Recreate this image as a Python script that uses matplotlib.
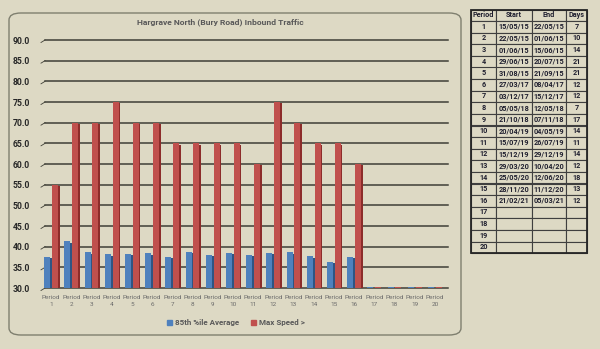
import numpy as np
import matplotlib.pyplot as plt
from matplotlib.patches import FancyBboxPatch, Rectangle

plt.rcParams['font.family'] = ['Roboto', 'DejaVu Sans']

# data
periods = [f"Period\n{i}" for i in range(1, 21)]
avg_85th = [37.5, 41.3, 38.6, 38.2, 38.3, 38.4, 37.5, 38.8, 38.1, 38.5,
            38.0, 38.5, 38.6, 37.7, 36.4, 37.5, 0, 0, 0, 0]
max_speed = [55, 70, 70, 75, 70, 70, 65, 65, 65, 65,
             60, 75, 70, 65, 65, 60, 0, 0, 0, 0]

tbl_period = [str(i) for i in range(1, 21)]
tbl_start = ["15/05/15", "22/05/15", "01/06/15", "29/06/15", "31/08/15", "27/03/17",
             "03/12/17", "05/05/18", "21/10/18", "20/04/19", "15/07/19", "15/12/19",
             "29/03/20", "25/05/20", "28/11/20", "21/02/21", "", "", "", ""]
tbl_end = ["22/05/15", "01/06/15", "15/06/15", "20/07/15", "21/09/15", "08/04/17",
           "15/12/17", "12/05/18", "07/11/18", "04/05/19", "26/07/19", "29/12/19",
           "10/04/20", "12/06/20", "11/12/20", "05/03/21", "", "", "", ""]
tbl_days = ["7", "10", "14", "21", "21", "12", "12", "7", "17", "14",
            "11", "14", "12", "18", "13", "12", "", "", "", ""]

bg = "#DDD9C4"
blue = "#4F81BD"
red = "#C0504D"
W, H = 600, 349

fig = plt.figure(figsize=(6, 3.49), dpi=100, facecolor=bg)

# chart frame
frame = FancyBboxPatch((9 / W, 14 / H), 452 / W, 322 / H, transform=fig.transFigure,
                       boxstyle="round,pad=0,rounding_size=0.02", facecolor=bg,
                       edgecolor="#7F7F6F", linewidth=1.0, zorder=0)
fig.patches.append(frame)

ax = fig.add_axes([41 / W, 61 / H, 404 / W, 248 / H])
ax.set_zorder(2)
ax.set_facecolor("none")
x = np.arange(len(periods))
bw = 0.3
dep = 0.08

def draw_series(vals, offset, color, dark):
    h = np.maximum(np.array(vals, dtype=float) - 30, 0.25)
    ax.bar(x + offset, h, bw, bottom=30, color=color, zorder=3)
    ax.bar(x + offset + bw / 2 + dep / 2, h - 0.35, dep, bottom=30, color=dark, zorder=3)

draw_series(avg_85th, -bw / 2 - dep / 2, blue, "#2F5583")
draw_series(max_speed, bw / 2 + dep / 2, red, "#8C2C2A")

for yv in range(30, 95, 5):
    ax.plot([-0.3, 19.65], [yv, yv], color="#3F3F36", lw=1.1, zorder=1, clip_on=False)
    ax.plot([-0.5, -0.3], [yv - 0.6, yv], color="#3F3F36", lw=0.6, clip_on=False)

ax.set_xlim(-0.5, 19.5)
ax.set_ylim(30, 90)
ax.set_yticks(range(30, 95, 5))
ax.set_yticklabels([f"{v:.1f}" for v in range(30, 95, 5)], fontsize=6.2,
                   fontweight="bold", color="#262626")
ax.set_xticks(x)
ax.set_xticklabels(periods, fontsize=4.6, color="#6B6B6B", linespacing=1.5)
ax.tick_params(length=0, pad=5)
ax.tick_params(axis="y", pad=8)
for s in ax.spines.values():
    s.set_visible(False)

fig.text(220 / W, 1 - 22 / H, "Hargrave North (Bury Road) Inbound Traffic",
         ha="center", va="center", fontsize=6.1, fontweight="bold", color="#595959")

# legend
ax.legend(handles=[Rectangle((0, 0), 1, 1, color=blue), Rectangle((0, 0), 1, 1, color=red)],
          labels=["85th %ile Average", "Max Speed >"], loc="center",
          bbox_to_anchor=(236 / W, 1 - 323 / H), bbox_transform=fig.transFigure,
          ncol=2, frameon=False, handlelength=0.6, handleheight=0.6,
          columnspacing=1.4, handletextpad=0.4,
          prop={"weight": "bold", "size": 5.8})
for t in ax.get_legend().get_texts():
    t.set_color("#595959")

# side table
col_edges = [471, 496, 532, 566, 587]
headers = ["Period", "Start", "End", "Days"]
top, row_h = 9.5, 11.6
columns = [tbl_period, tbl_start, tbl_end, tbl_days]
nrows = len(tbl_period) + 1
for r in range(nrows):
    y0 = top + r * row_h
    for c in range(4):
        x0, x1 = col_edges[c], col_edges[c + 1]
        fig.patches.append(Rectangle((x0 / W, 1 - (y0 + row_h) / H), (x1 - x0) / W, row_h / H,
                                     transform=fig.transFigure, facecolor=bg,
                                     edgecolor="#3F3F3F", linewidth=0.8))
        txt = headers[c] if r == 0 else columns[c][r - 1]
        fig.text((x0 + x1) / 2 / W, 1 - (y0 + row_h / 2) / H, txt, ha="center",
                 va="center", fontsize=5.2, fontweight="bold", color="#1F1F2F")
fig.patches.append(Rectangle((col_edges[0] / W, 1 - (top + nrows * row_h) / H),
                             (col_edges[-1] - col_edges[0]) / W, nrows * row_h / H,
                             transform=fig.transFigure, fill=False,
                             edgecolor="#262626", linewidth=1.3))

fig.savefig("out.png", dpi=100, facecolor=bg)
